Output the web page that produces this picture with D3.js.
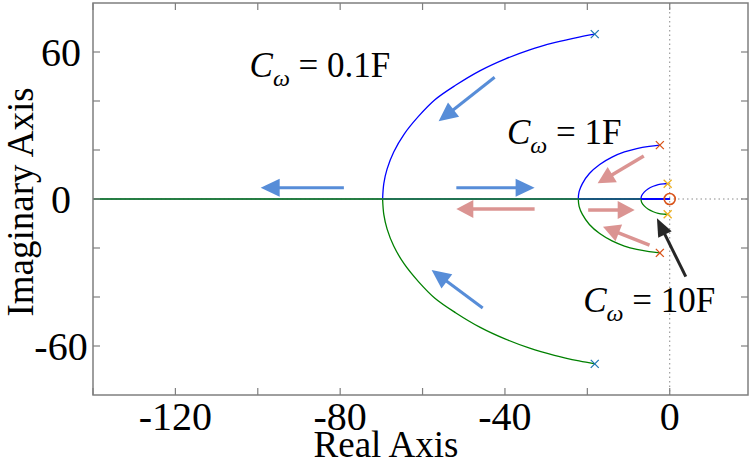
<!DOCTYPE html>
<html>
<head>
<meta charset="utf-8">
<script src="https://cdn.jsdelivr.net/npm/d3@7"></script>
<style>
  html, body { margin: 0; padding: 0; background: #fff; }
  svg { display: block; }
</style>
</head>
<body>
<svg id="chart" width="754" height="465"></svg>
<script>
// ---------- data ----------
const xDomain = [-140, 19];
const yDomain = [-80, 80];
const xTicks = [-140, -120, -100, -80, -60, -40, -20, 0];
const xTickLabels = [-120, -80, -40, 0];
const yTicks = [-60, -40, -20, 0, 20, 40, 60];
const yTickLabels = [-60, 0, 60];

// upper branches (pole -> breakaway); lower branch is the mirror image
const locus01Re = [-18.2, -22, -28, -34, -40, -46, -52, -57, -61, -64.5, -67, -68.6, -69.4, -69.7];
const locus01Im = [67.3, 66.1, 63.8, 60.9, 57.1, 52.4, 46.4, 40.5, 33.7, 26.4, 19.2, 12.3, 6.4, 0];
const locus1Re = [-2.4, -5, -8, -11, -14, -17, -19.5, -21.2, -22.0, -22.2];
const locus1Im = [22.0, 21.5, 20.6, 19.2, 17.1, 14.1, 10.4, 6.3, 3.0, 0];
const locus10Re = [-0.5, -1.5, -2.8, -4.0, -5.2, -6.2, -6.8, -7.0];
const locus10Im = [6.2, 6.2, 5.9, 5.2, 4.2, 2.8, 1.4, 0];

const poleRe = [-18.2, -2.4, -0.5];
const poleIm = [67.3, 22.0, 6.2];
const poleColors = ["#1f77b4", "#D95319", "#EDB120"];
const zeroRe = [0];
const zeroIm = [0];

// annotation arrows: tail (re, im) -> tip (re, im)
const blueArrowTail = [[-42.5, 49.7], [-45.4, -44.5], [-79.1, 4.6], [-51.8, 4.6]];
const blueArrowTip  = [[-56.1, 31.7], [-57.8, -29.0], [-99.3, 4.6], [-32.8, 4.6]];
const pinkArrowTail = [[-6.3, 17.6], [-4.9, -18.8], [-19.8, -4.5], [-32.8, -4.1]];
const pinkArrowTip  = [[-17.5, 6.4], [-16.2, -11.3], [-8.5, -4.5], [-51.8, -4.1]];
const blackArrowTail = [[3.9, -31.7]];
const blackArrowTip  = [[-3.1, -7.9]];

const labelValues = ["0.1F", "1F", "10F"];
const labelRe = [-102, -39.5, -21];
const labelIm = [50, 22.5, -46];

// ---------- drawing ----------
const FONT = "'Liberation Serif', 'Times New Roman', Times, serif";
const svg = d3.select("#chart");
const x = d3.scaleLinear().domain(xDomain).range([93, 748]);
const y = d3.scaleLinear().domain(yDomain).range([395, 3]);
const axisColor = "#7f7f7f";

svg.append("line").attr("x1", x(0)).attr("x2", x(0)).attr("y1", y(80)).attr("y2", y(-80))
  .attr("stroke", "#8a8a8a").attr("stroke-width", 1).attr("stroke-dasharray", "1.5,3");
svg.append("line").attr("x1", x(xDomain[0])).attr("x2", x(xDomain[1])).attr("y1", y(0)).attr("y2", y(0))
  .attr("stroke", "#8a8a8a").attr("stroke-width", 1).attr("stroke-dasharray", "1.5,3");

const line = d3.line().x(d => x(d[0])).y(d => y(d[1])).curve(d3.curveCatmullRom);

function drawLocus(re, im) {
  const upper = re.map((r, i) => [r, im[i]]);
  const lower = re.map((r, i) => [r, -im[i]]);
  const brk = re[re.length - 1];
  svg.append("path").attr("d", line(upper)).attr("fill", "none").attr("stroke", "#0000ff").attr("stroke-width", 1.3);
  svg.append("line").attr("x1", x(brk)).attr("x2", x(0)).attr("y1", y(0)).attr("y2", y(0))
    .attr("stroke", "#0000ff").attr("stroke-width", 1.5);
  svg.append("path").attr("d", line(lower)).attr("fill", "none").attr("stroke", "#008000").attr("stroke-width", 1.3);
  svg.append("line").attr("x1", x(brk)).attr("x2", x(xDomain[0])).attr("y1", y(0)).attr("y2", y(0))
    .attr("stroke", "#1f7a3f").attr("stroke-width", 1.5).attr("stroke-opacity", 0.9);
}
drawLocus(locus01Re, locus01Im);
drawLocus(locus1Re, locus1Im);
drawLocus(locus10Re, locus10Im);

poleRe.forEach((r, i) => {
  [poleIm[i], -poleIm[i]].forEach(im => {
    const cx = x(r), cy = y(im), s = 4;
    svg.append("path").attr("d", `M${cx - s},${cy - s}L${cx + s},${cy + s}M${cx - s},${cy + s}L${cx + s},${cy - s}`)
      .attr("stroke", poleColors[i]).attr("stroke-width", 1.3).attr("fill", "none");
  });
});
zeroRe.forEach((r, i) => {
  svg.append("circle").attr("cx", x(r)).attr("cy", y(zeroIm[i])).attr("r", 5.5)
    .attr("fill", "none").attr("stroke", "#D95319").attr("stroke-width", 1.6);
});

function drawArrow(tail, tip, color, shaft, headLen, headW) {
  const x0 = x(tail[0]), y0 = y(tail[1]), x1 = x(tip[0]), y1 = y(tip[1]);
  const dx = x1 - x0, dy = y1 - y0, L = Math.hypot(dx, dy);
  const ux = dx / L, uy = dy / L, px = -uy, py = ux;
  const bx = x1 - ux * headLen, by = y1 - uy * headLen;
  svg.append("line").attr("x1", x0).attr("y1", y0).attr("x2", bx + ux * 1).attr("y2", by + uy * 1)
    .attr("stroke", color).attr("stroke-width", shaft);
  svg.append("path")
    .attr("d", `M${x1},${y1}L${bx + px * headW / 2},${by + py * headW / 2}L${bx - px * headW / 2},${by - py * headW / 2}Z`)
    .attr("fill", color);
}
blueArrowTail.forEach((t, i) => drawArrow(t, blueArrowTip[i], "#578dd8", 3, 19, 18));
pinkArrowTail.forEach((t, i) => drawArrow(t, pinkArrowTip[i], "#db9492", 3.5, 17, 18));
blackArrowTail.forEach((t, i) => drawArrow(t, blackArrowTip[i], "#262626", 3, 18, 15));

svg.append("rect").attr("x", x(xDomain[0])).attr("y", y(yDomain[1]))
  .attr("width", x(xDomain[1]) - x(xDomain[0])).attr("height", y(yDomain[0]) - y(yDomain[1]))
  .attr("fill", "none").attr("stroke", axisColor).attr("stroke-width", 1.5);

const tk = 7;
xTicks.forEach(v => {
  svg.append("line").attr("x1", x(v)).attr("x2", x(v)).attr("y1", y(yDomain[0])).attr("y2", y(yDomain[0]) - tk)
    .attr("stroke", axisColor).attr("stroke-width", 1.2);
  svg.append("line").attr("x1", x(v)).attr("x2", x(v)).attr("y1", y(yDomain[1])).attr("y2", y(yDomain[1]) + tk)
    .attr("stroke", axisColor).attr("stroke-width", 1.2);
});
yTicks.forEach(v => {
  svg.append("line").attr("x1", x(xDomain[0])).attr("x2", x(xDomain[0]) + tk).attr("y1", y(v)).attr("y2", y(v))
    .attr("stroke", axisColor).attr("stroke-width", 1.2);
  svg.append("line").attr("x1", x(xDomain[1])).attr("x2", x(xDomain[1]) - tk).attr("y1", y(v)).attr("y2", y(v))
    .attr("stroke", axisColor).attr("stroke-width", 1.2);
});

function txt(sel) { return sel.attr("font-family", FONT).attr("fill", "#000"); }
xTickLabels.forEach(v => {
  txt(svg.append("text")).attr("x", x(v)).attr("y", 430).attr("text-anchor", "middle")
    .attr("font-size", 40).text(v);
});
yTickLabels.forEach(v => {
  txt(svg.append("text")).attr("x", 61).attr("y", y(v) + 14).attr("text-anchor", "middle")
    .attr("font-size", 40).text(v);
});

txt(svg.append("text")).attr("x", 386).attr("y", 457).attr("text-anchor", "middle")
  .attr("font-size", 37).text("Real Axis");
txt(svg.append("text")).attr("transform", `translate(33,202) rotate(-90)`).attr("text-anchor", "middle")
  .attr("font-size", 37).text("Imaginary Axis");

labelValues.forEach((v, i) => {
  const t = txt(svg.append("text")).attr("x", x(labelRe[i])).attr("y", y(labelIm[i])).attr("font-size", 35);
  t.append("tspan").attr("font-style", "italic").text("C");
  t.append("tspan").attr("font-style", "italic").attr("font-size", 24).attr("dy", 9).text("ω");
  t.append("tspan").attr("dy", -9).text(" = " + v);
});
</script>
</body>
</html>
